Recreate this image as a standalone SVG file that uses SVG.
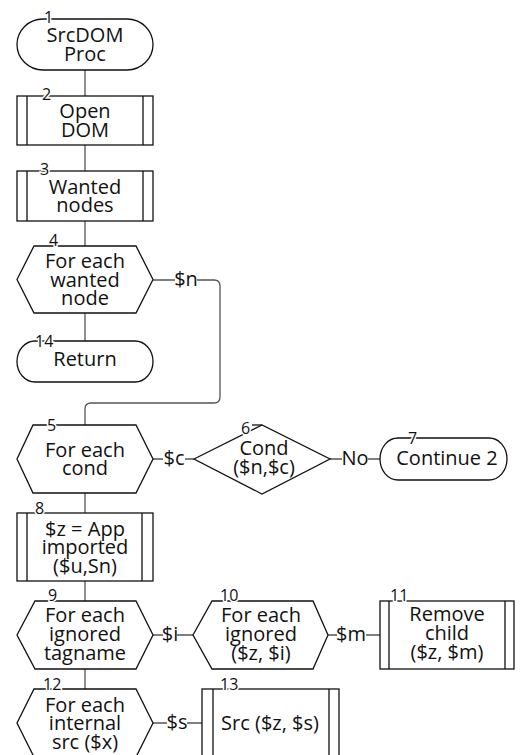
<svg xmlns="http://www.w3.org/2000/svg" width="525" height="755" viewBox="0 0 525 755">
<style>
.s{fill:#fff;stroke:#111;stroke-width:1.3}
.c{fill:none;stroke:#555;stroke-width:1.3}
.t{font-family:"Open Sans","Noto Sans",sans-serif;font-size:20px;fill:#111;text-anchor:middle}
.n{font-family:"Open Sans","Noto Sans",sans-serif;font-size:16px;fill:#111;stroke:#fff;stroke-width:3;paint-order:stroke}
.l{font-family:"Open Sans","Noto Sans",sans-serif;font-size:20px;fill:#111;text-anchor:middle}
</style>
<rect width="525" height="755" fill="#fff"/>
<g id="connectors">
<path class="c" d="M85 70V96M85 145V171M85 221V246M85 313V341M85 493V513M85 581V601M85 669V689"/>
<path class="c" d="M153 280H175M197 280H214Q220 280 220 286V397Q220 403 214 403H91Q85 403 85 409V425"/>
<path class="c" d="M153 459H163M185 459H194M330 459H342M368 459H380"/>
<path class="c" d="M153 635H163M177 635H193M328 635H337M366 635H380M153 723H167M187 723H202"/>
<text class="l" x="186" y="286">$n</text>
<text class="l" x="174" y="465">$c</text>
<text class="l" x="355" y="465">No</text>
<text class="l" x="170" y="641">$i</text>
<text class="l" x="351" y="641">$m</text>
<text class="l" x="177" y="729">$s</text>
</g>
<g id="node1">
<path class="s" d="M43 19H127A26 25.5 0 0 1 127 70H43A26 25.5 0 0 1 43 19Z"/>
<text class="t" x="85" y="42">SrcDOM</text>
<text class="t" x="85" y="61">Proc</text>
<text class="n" x="44" y="23">1</text>
</g>
<g id="node2">
<rect class="s" x="17" y="96" width="136" height="49"/>
<path class="s" d="M27 96V145M143 96V145"/>
<text class="t" x="85" y="118">Open</text>
<text class="t" x="85" y="137">DOM</text>
<text class="n" x="42" y="100">2</text>
</g>
<g id="node3">
<rect class="s" x="17" y="171" width="136" height="50"/>
<path class="s" d="M27 171V221M143 171V221"/>
<text class="t" x="85" y="194">Wanted</text>
<text class="t" x="85" y="212">nodes</text>
<text class="n" x="40" y="175">3</text>
</g>
<g id="node4">
<path class="s" d="M17 279.5L34 246H136L153 279.5L136 313H34Z"/>
<text class="t" x="85" y="268">For each</text>
<text class="t" x="85" y="287">wanted</text>
<text class="t" x="85" y="305">node</text>
<text class="n" x="49" y="246">4</text>
</g>
<g id="node14">
<path class="s" d="M35 341H135A18 20.5 0 0 1 135 382H35A18 20.5 0 0 1 35 341Z"/>
<text class="t" x="85" y="366">Return</text>
<text class="n" x="35" y="347">14</text>
</g>
<g id="node5">
<path class="s" d="M17 459L33 425H136L153 459L136 493H33Z"/>
<text class="t" x="85" y="457">For each</text>
<text class="t" x="85" y="475">cond</text>
<text class="n" x="47" y="431">5</text>
</g>
<g id="node6">
<path class="s" d="M194 459L262 425L330 459L262 494Z"/>
<path class="s" d="M252 425H262"/>
<text class="t" x="264" y="455">Cond</text>
<text class="t" x="264" y="474">($n,$c)</text>
<text class="n" x="241" y="434">6</text>
</g>
<g id="node7">
<path class="s" d="M398 438H489A18 21 0 0 1 489 480H398A18 21 0 0 1 398 438Z"/>
<text class="t" x="447" y="465">Continue 2</text>
<text class="n" x="408" y="444">7</text>
</g>
<g id="node8">
<rect class="s" x="17" y="513" width="136" height="68"/>
<path class="s" d="M27 513V581M142 513V581"/>
<text class="t" x="85" y="536">$z = App</text>
<text class="t" x="85" y="554">imported</text>
<text class="t" x="85" y="573">($u,Sn)</text>
<text class="n" x="35" y="514">8</text>
</g>
<g id="node9">
<path class="s" d="M17 635L35 601H136L153 635L136 669H35Z"/>
<text class="t" x="85" y="622">For each</text>
<text class="t" x="85" y="641">ignored</text>
<text class="t" x="85" y="660">tagname</text>
<text class="n" x="48" y="601">9</text>
</g>
<g id="node10">
<path class="s" d="M193 635L212 601H313L328 635L313 669H212Z"/>
<text class="t" x="261" y="622">For each</text>
<text class="t" x="261" y="641">ignored</text>
<text class="t" x="261" y="660">($z, $i)</text>
<text class="n" x="220" y="601">10</text>
</g>
<g id="node11">
<rect class="s" x="380" y="601" width="134" height="68"/>
<path class="s" d="M389 601V669M505 601V669"/>
<text class="t" x="447" y="621">Remove</text>
<text class="t" x="447" y="640">child</text>
<text class="t" x="447" y="659">($z, $m)</text>
<text class="n" x="390" y="601">11</text>
</g>
<g id="node12">
<path class="s" d="M17 723L34 689H136L153 723L136 757H34Z"/>
<text class="t" x="85" y="712">For each</text>
<text class="t" x="85" y="730">internal</text>
<text class="t" x="85" y="749">src ($x)</text>
<text class="n" x="43" y="690">12</text>
</g>
<g id="node13">
<rect class="s" x="202" y="689" width="137" height="80"/>
<path class="s" d="M213 689V769M329 689V769"/>
<text class="t" x="270" y="730">Src ($z, $s)</text>
<text class="n" x="220" y="690">13</text>
</g>
</svg>
